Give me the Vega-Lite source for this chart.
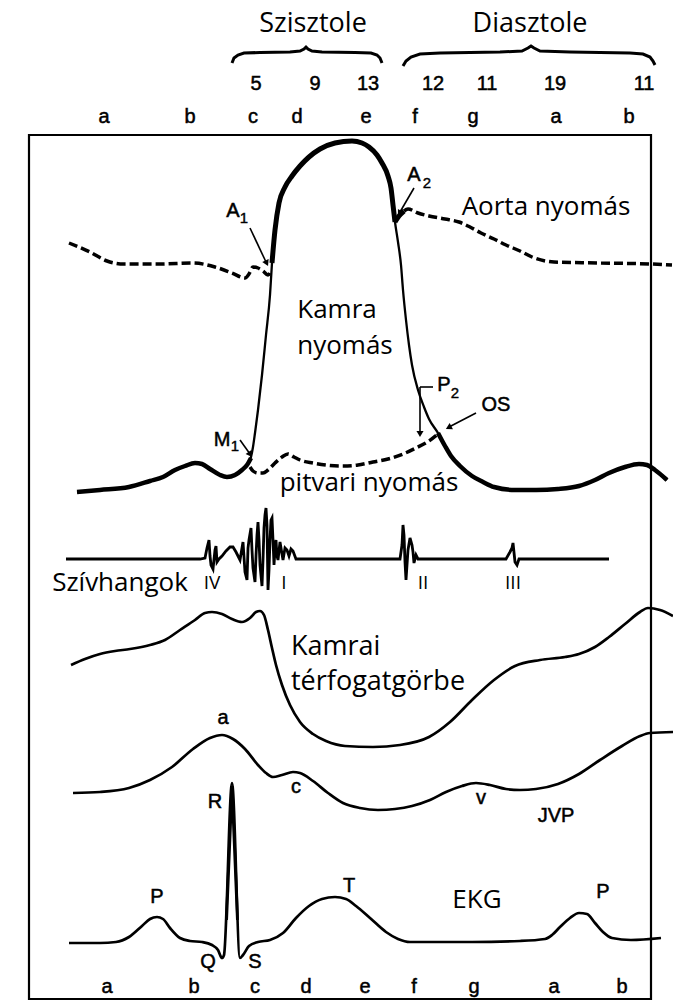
{
"$schema":"https://vega.github.io/schema/vega-lite/v6.json",
"width":673,"height":1001,"autosize":{"type":"none"},"padding":0,
"background":"white",
"config":{"view":{"stroke":null}},
"datasets":{
"L":[
{"s":"k","x":77,"y":492},{"s":"k","x":100,"y":490},{"s":"k","x":129,"y":487},{"s":"k","x":150,"y":481},{"s":"k","x":163,"y":477},{"s":"k","x":175,"y":470},{"s":"k","x":185,"y":466},{"s":"k","x":195,"y":463},{"s":"k","x":202,"y":464},{"s":"k","x":210,"y":469},{"s":"k","x":220,"y":475},{"s":"k","x":227,"y":477},{"s":"k","x":235,"y":475},{"s":"k","x":242,"y":470},{"s":"k","x":247,"y":465},{"s":"k","x":251,"y":457},{"s":"k","x":253,"y":447},{"s":"k","x":255,"y":433},{"s":"k","x":258,"y":410},{"s":"k","x":262,"y":375},{"s":"k","x":266,"y":335},{"s":"k","x":270,"y":295},{"s":"k","x":272,"y":263},{"s":"k","x":275,"y":230},{"s":"k","x":279,"y":203},{"s":"k","x":285,"y":187},{"s":"k","x":292,"y":176},{"s":"k","x":300,"y":166},{"s":"k","x":309,"y":157},{"s":"k","x":320,"y":149},{"s":"k","x":335,"y":143},{"s":"k","x":352,"y":141},{"s":"k","x":362,"y":143},{"s":"k","x":369,"y":147},{"s":"k","x":377,"y":155},{"s":"k","x":382,"y":163},{"s":"k","x":388,"y":176},{"s":"k","x":391,"y":188},{"s":"k","x":393,"y":205},{"s":"k","x":395,"y":222},{"s":"k","x":398,"y":242},{"s":"k","x":401,"y":265},{"s":"k","x":403,"y":290},{"s":"k","x":406,"y":320},{"s":"k","x":409,"y":345},{"s":"k","x":412,"y":365},{"s":"k","x":418,"y":390},{"s":"k","x":424,"y":407},{"s":"k","x":429,"y":419},{"s":"k","x":438,"y":433},{"s":"k","x":445,"y":446},{"s":"k","x":451,"y":456},{"s":"k","x":460,"y":466},{"s":"k","x":472,"y":476},{"s":"k","x":483,"y":482},{"s":"k","x":494,"y":487},{"s":"k","x":515,"y":490},{"s":"k","x":536,"y":490},{"s":"k","x":558,"y":489},{"s":"k","x":579,"y":486},{"s":"k","x":595,"y":480},{"s":"k","x":609,"y":473},{"s":"k","x":625,"y":467},{"s":"k","x":639,"y":464},{"s":"k","x":647,"y":465},{"s":"k","x":655,"y":470},{"s":"k","x":667,"y":480},
{"s":"at","x":272,"y":263},{"s":"at","x":275,"y":230},{"s":"at","x":279,"y":203},{"s":"at","x":285,"y":187},{"s":"at","x":292,"y":176},{"s":"at","x":300,"y":166},{"s":"at","x":309,"y":157},{"s":"at","x":320,"y":149},{"s":"at","x":335,"y":143},{"s":"at","x":352,"y":141},{"s":"at","x":362,"y":143},{"s":"at","x":369,"y":147},{"s":"at","x":377,"y":155},{"s":"at","x":382,"y":163},{"s":"at","x":388,"y":176},{"s":"at","x":391,"y":188},{"s":"at","x":393,"y":205},{"s":"at","x":395,"y":222},
{"s":"an","x":395,"y":222},{"s":"an","x":399,"y":216},{"s":"an","x":404,"y":211},
{"s":"a1","x":69,"y":243},{"s":"a1","x":90,"y":252},{"s":"a1","x":107,"y":261},{"s":"a1","x":124,"y":264},{"s":"a1","x":160,"y":264},{"s":"a1","x":193,"y":263},{"s":"a1","x":215,"y":267},{"s":"a1","x":232,"y":273},{"s":"a1","x":245,"y":278},{"s":"a1","x":249,"y":274},{"s":"a1","x":253,"y":267},{"s":"a1","x":258,"y":268},{"s":"a1","x":263,"y":271},{"s":"a1","x":268,"y":275},{"s":"a1","x":271,"y":270},
{"s":"a2","x":404,"y":211},{"s":"a2","x":408,"y":209},{"s":"a2","x":418,"y":213},{"s":"a2","x":429,"y":216},{"s":"a2","x":445,"y":219},{"s":"a2","x":459,"y":222},{"s":"a2","x":470,"y":227},{"s":"a2","x":481,"y":233},{"s":"a2","x":494,"y":239},{"s":"a2","x":506,"y":245},{"s":"a2","x":520,"y":251},{"s":"a2","x":532,"y":257},{"s":"a2","x":554,"y":262},{"s":"a2","x":601,"y":263},{"s":"a2","x":652,"y":264},{"s":"a2","x":672,"y":265},
{"s":"p1","x":77,"y":492},{"s":"p1","x":100,"y":490},{"s":"p1","x":129,"y":487},{"s":"p1","x":150,"y":481},{"s":"p1","x":163,"y":477},{"s":"p1","x":175,"y":470},{"s":"p1","x":185,"y":466},{"s":"p1","x":195,"y":463},{"s":"p1","x":202,"y":464},{"s":"p1","x":210,"y":469},{"s":"p1","x":220,"y":475},{"s":"p1","x":227,"y":477},{"s":"p1","x":235,"y":475},{"s":"p1","x":242,"y":470},{"s":"p1","x":247,"y":465},{"s":"p1","x":251,"y":458},
{"s":"ps","x":250,"y":467},{"s":"ps","x":253,"y":471},{"s":"ps","x":258,"y":473},{"s":"ps","x":263,"y":473},{"s":"ps","x":268,"y":470},{"s":"ps","x":275,"y":463},{"s":"ps","x":282,"y":457},{"s":"ps","x":288,"y":454},{"s":"ps","x":294,"y":457},{"s":"ps","x":300,"y":460},{"s":"ps","x":313,"y":463},{"s":"ps","x":326,"y":465},{"s":"ps","x":343,"y":466},{"s":"ps","x":358,"y":465},{"s":"ps","x":373,"y":462},{"s":"ps","x":388,"y":459},{"s":"ps","x":403,"y":454},{"s":"ps","x":416,"y":448},{"s":"ps","x":429,"y":441},{"s":"ps","x":438,"y":434},
{"s":"p2","x":438,"y":433},{"s":"p2","x":445,"y":446},{"s":"p2","x":451,"y":456},{"s":"p2","x":460,"y":466},{"s":"p2","x":472,"y":476},{"s":"p2","x":483,"y":482},{"s":"p2","x":494,"y":487},{"s":"p2","x":515,"y":490},{"s":"p2","x":536,"y":490},{"s":"p2","x":558,"y":489},{"s":"p2","x":579,"y":486},{"s":"p2","x":595,"y":480},{"s":"p2","x":609,"y":473},{"s":"p2","x":625,"y":467},{"s":"p2","x":639,"y":464},{"s":"p2","x":647,"y":465},{"s":"p2","x":655,"y":470},{"s":"p2","x":667,"y":480},
{"s":"v","x":71,"y":665},{"s":"v","x":85,"y":659},{"s":"v","x":100,"y":654},{"s":"v","x":115,"y":651},{"s":"v","x":130,"y":649},{"s":"v","x":150,"y":645},{"s":"v","x":165,"y":640},{"s":"v","x":180,"y":630},{"s":"v","x":195,"y":620},{"s":"v","x":205,"y":613},{"s":"v","x":212,"y":612},{"s":"v","x":222,"y":614},{"s":"v","x":232,"y":619},{"s":"v","x":242,"y":622},{"s":"v","x":250,"y":618},{"s":"v","x":256,"y":612},{"s":"v","x":260,"y":611},{"s":"v","x":264,"y":615},{"s":"v","x":268,"y":630},{"s":"v","x":272,"y":648},{"s":"v","x":276,"y":665},{"s":"v","x":282,"y":685},{"s":"v","x":290,"y":705},{"s":"v","x":300,"y":722},{"s":"v","x":313,"y":734},{"s":"v","x":326,"y":741},{"s":"v","x":345,"y":746},{"s":"v","x":373,"y":747},{"s":"v","x":400,"y":745},{"s":"v","x":429,"y":737},{"s":"v","x":450,"y":722},{"s":"v","x":472,"y":700},{"s":"v","x":494,"y":680},{"s":"v","x":515,"y":666},{"s":"v","x":540,"y":660},{"s":"v","x":565,"y":657},{"s":"v","x":579,"y":654},{"s":"v","x":595,"y":647},{"s":"v","x":609,"y":637},{"s":"v","x":625,"y":624},{"s":"v","x":640,"y":612},{"s":"v","x":648,"y":608},{"s":"v","x":660,"y":610},{"s":"v","x":673,"y":616},
{"s":"j","x":73,"y":793},{"s":"j","x":100,"y":792},{"s":"j","x":129,"y":788},{"s":"j","x":150,"y":780},{"s":"j","x":172,"y":767},{"s":"j","x":193,"y":749},{"s":"j","x":210,"y":738},{"s":"j","x":222,"y":735},{"s":"j","x":233,"y":739},{"s":"j","x":245,"y":749},{"s":"j","x":258,"y":765},{"s":"j","x":266,"y":773},{"s":"j","x":273,"y":777},{"s":"j","x":282,"y":775},{"s":"j","x":293,"y":772},{"s":"j","x":300,"y":773},{"s":"j","x":313,"y":781},{"s":"j","x":328,"y":793},{"s":"j","x":343,"y":803},{"s":"j","x":360,"y":808},{"s":"j","x":378,"y":810},{"s":"j","x":395,"y":809},{"s":"j","x":412,"y":806},{"s":"j","x":430,"y":800},{"s":"j","x":446,"y":792},{"s":"j","x":462,"y":786},{"s":"j","x":476,"y":783},{"s":"j","x":490,"y":785},{"s":"j","x":506,"y":789},{"s":"j","x":520,"y":790},{"s":"j","x":536,"y":789},{"s":"j","x":558,"y":784},{"s":"j","x":579,"y":774},{"s":"j","x":600,"y":760},{"s":"j","x":622,"y":746},{"s":"j","x":640,"y":736},{"s":"j","x":650,"y":733},{"s":"j","x":673,"y":732},
{"s":"e","x":69,"y":943},{"s":"e","x":100,"y":943},{"s":"e","x":116,"y":942},{"s":"e","x":129,"y":937},{"s":"e","x":142,"y":926},{"s":"e","x":150,"y":919},{"s":"e","x":157,"y":917},{"s":"e","x":163,"y":919},{"s":"e","x":170,"y":928},{"s":"e","x":180,"y":938},{"s":"e","x":190,"y":941},{"s":"e","x":202,"y":942},{"s":"e","x":212,"y":945},{"s":"e","x":218,"y":950},{"s":"e","x":222,"y":958},{"s":"e","x":224,"y":955},{"s":"e","x":232,"y":783},{"s":"e","x":240,"y":958},{"s":"e","x":243,"y":955},{"s":"e","x":249,"y":946},{"s":"e","x":258,"y":942},{"s":"e","x":270,"y":940},{"s":"e","x":283,"y":933},{"s":"e","x":296,"y":918},{"s":"e","x":309,"y":906},{"s":"e","x":322,"y":899},{"s":"e","x":335,"y":897},{"s":"e","x":346,"y":899},{"s":"e","x":356,"y":906},{"s":"e","x":370,"y":918},{"s":"e","x":386,"y":932},{"s":"e","x":398,"y":939},{"s":"e","x":410,"y":942},{"s":"e","x":472,"y":942},{"s":"e","x":520,"y":941},{"s":"e","x":545,"y":939},{"s":"e","x":552,"y":935},{"s":"e","x":560,"y":927},{"s":"e","x":570,"y":918},{"s":"e","x":579,"y":913},{"s":"e","x":587,"y":914},{"s":"e","x":595,"y":923},{"s":"e","x":603,"y":932},{"s":"e","x":612,"y":938},{"s":"e","x":631,"y":940},{"s":"e","x":661,"y":938}
],
"R":[{"x":226.5,"y":920},{"x":232,"y":786},{"x":237.5,"y":920}],
"H":[
{"x":66,"y":559},{"x":200,"y":559},{"x":205,"y":558},{"x":207,"y":548},{"x":209,"y":540},{"x":210,"y":556},{"x":211,"y":565},{"x":213,"y":569},{"x":215,"y":550},{"x":216,"y":546},{"x":217,"y":562},{"x":219,"y":559},{"x":222,"y":556},{"x":226,"y":551},{"x":230,"y":547},{"x":233,"y":547},{"x":236,"y":552},{"x":240,"y":560},{"x":242,"y":548},{"x":243,"y":542},{"x":245,"y":572},{"x":247,"y":580},{"x":248,"y":548},{"x":249,"y":540},{"x":251,"y":528},{"x":252,"y":550},{"x":253,"y":568},{"x":255,"y":582},{"x":256,"y":556},{"x":257,"y":535},{"x":258,"y":522},{"x":259,"y":540},{"x":260,"y":565},{"x":262,"y":586},{"x":263,"y":560},{"x":264,"y":528},{"x":265,"y":515},{"x":266,"y":508},{"x":267,"y":525},{"x":268,"y":590},{"x":269,"y":570},{"x":270,"y":540},{"x":271,"y":520},{"x":272,"y":518},{"x":273,"y":540},{"x":274,"y":565},{"x":275,"y":550},{"x":276,"y":540},{"x":277,"y":556},{"x":278,"y":560},{"x":280,"y":542},{"x":281,"y":548},{"x":283,"y":560},{"x":285,"y":548},{"x":287,"y":550},{"x":289,"y":556},{"x":291,"y":549},{"x":293,"y":551},{"x":296,"y":559},{"x":400,"y":559},{"x":402,"y":545},{"x":403,"y":525},{"x":404,"y":535},{"x":405,"y":562},{"x":406,"y":580},{"x":407,"y":565},{"x":408,"y":550},{"x":410,"y":538},{"x":412,"y":545},{"x":413,"y":552},{"x":414,"y":563},{"x":416,"y":555},{"x":418,"y":559},{"x":506,"y":559},{"x":510,"y":552},{"x":512,"y":548},{"x":513,"y":543},{"x":515,"y":562},{"x":517,"y":565},{"x":519,"y":559},{"x":609,"y":559}
],
"B":[
{"s":"b1","x":232,"y":63},{"s":"b1","x":234,"y":58},{"s":"b1","x":238,"y":55},{"s":"b1","x":244,"y":53},{"s":"b1","x":260,"y":52.5},{"s":"b1","x":290,"y":52},{"s":"b1","x":300,"y":51},{"s":"b1","x":304,"y":49},{"s":"b1","x":306,"y":47},{"s":"b1","x":308,"y":49},{"s":"b1","x":312,"y":51},{"s":"b1","x":322,"y":52},{"s":"b1","x":355,"y":52.5},{"s":"b1","x":371,"y":53},{"s":"b1","x":377,"y":55},{"s":"b1","x":380,"y":58},{"s":"b1","x":382,"y":63},
{"s":"b2","x":403,"y":66},{"s":"b2","x":406,"y":61},{"s":"b2","x":411,"y":57},{"s":"b2","x":420,"y":54},{"s":"b2","x":440,"y":53},{"s":"b2","x":500,"y":52},{"s":"b2","x":522,"y":51},{"s":"b2","x":528,"y":48},{"s":"b2","x":531,"y":46},{"s":"b2","x":534,"y":48},{"s":"b2","x":540,"y":51},{"s":"b2","x":570,"y":52},{"s":"b2","x":630,"y":53},{"s":"b2","x":643,"y":54},{"s":"b2","x":650,"y":57},{"s":"b2","x":653,"y":61},{"s":"b2","x":655,"y":65}
],
"BOX":[{"x":29,"y":135,"x2":651,"y2":999}],
"AR":[
{"x":250,"y":228,"x2":266,"y2":262},{"x":414,"y":188,"x2":400,"y2":212},{"x":420,"y":387,"x2":433,"y2":387},{"x":420,"y":387,"x2":420,"y2":433},{"x":476,"y":413,"x2":449,"y2":427},{"x":240,"y":440,"x2":250,"y2":454}
],
"AH":[
{"x":266.3,"y":262.4,"ang":154.7},{"x":400,"y":212.5,"ang":209.7},{"x":420,"y":433,"ang":180},{"x":449.5,"y":427,"ang":242},{"x":249.7,"y":453.7,"ang":144.8}
],
"TT":[
{"t":"Szisztole","x":313,"y":24},{"t":"Diasztole","x":530,"y":24}
],
"TB":[
{"t":"Aorta nyomás","x":546,"y":207},{"t":"Kamra","x":337,"y":310},{"t":"nyomás","x":345,"y":346},{"t":"pitvari nyomás","x":369,"y":483},{"t":"Szívhangok","x":120,"y":583},{"t":"EKG","x":477,"y":900}
],
"TL":[
{"t":"Kamrai","x":291,"y":647},{"t":"térfogatgörbe","x":291,"y":682}
],
"TS":[
{"t":"5","x":256,"y":84},{"t":"9","x":315,"y":84},{"t":"13","x":368,"y":84},{"t":"12","x":433,"y":84},{"t":"11","x":487,"y":84},{"t":"19","x":555,"y":84},{"t":"11","x":644,"y":84},
{"t":"a","x":104,"y":117},{"t":"b","x":190,"y":117},{"t":"c","x":253,"y":117},{"t":"d","x":297,"y":117},{"t":"e","x":366,"y":117},{"t":"f","x":415,"y":117},{"t":"g","x":473,"y":117},{"t":"a","x":556,"y":117},{"t":"b","x":629,"y":117},
{"t":"a","x":107,"y":987},{"t":"b","x":194,"y":987},{"t":"c","x":255,"y":987},{"t":"d","x":306,"y":987},{"t":"e","x":365,"y":987},{"t":"f","x":414,"y":987},{"t":"g","x":474,"y":987},{"t":"a","x":554,"y":987},{"t":"b","x":622,"y":987},
{"t":"a","x":223,"y":718},{"t":"c","x":296,"y":787},{"t":"v","x":481,"y":798},{"t":"JVP","x":556,"y":816},{"t":"R","x":215,"y":802},
{"t":"P","x":157,"y":897},{"t":"Q","x":208,"y":962},{"t":"S","x":255,"y":962},{"t":"T","x":349,"y":886},{"t":"P","x":603,"y":892},
{"t":"A","x":233,"y":211},{"t":"A","x":414,"y":175},{"t":"M","x":222,"y":440},{"t":"P","x":444,"y":385},{"t":"OS","x":496,"y":405}
],
"TU":[
{"t":"1","x":244,"y":218},{"t":"2","x":427,"y":183},{"t":"1","x":235,"y":446},{"t":"2","x":455,"y":393}
],
"TH":[
{"t":"IV","x":212,"y":583},{"t":"I","x":284,"y":583},{"t":"II","x":423,"y":583},{"t":"III","x":513,"y":583}
]
},
"encoding":{
"x":{"field":"x","type":"quantitative","scale":{"domain":[0,673],"nice":false,"zero":false},"axis":null},
"y":{"field":"y","type":"quantitative","scale":{"domain":[0,1001],"nice":false,"zero":false,"reverse":true},"axis":null}
},
"layer":[
{"data":{"name":"BOX"},"mark":{"type":"rect","fill":null,"stroke":"black","strokeWidth":2.2},"encoding":{"x2":{"field":"x2"},"y2":{"field":"y2"}}},
{"data":{"name":"L"},"transform":[{"filter":"datum.s=='k'"}],"mark":{"type":"line","stroke":"black","strokeWidth":2.3,"interpolate":"monotone"},"encoding":{"order":{"value":null}}},
{"data":{"name":"L"},"transform":[{"filter":"datum.s=='at' || datum.s=='an'"}],"mark":{"type":"line","stroke":"black","strokeWidth":5,"interpolate":"monotone"},"encoding":{"detail":{"field":"s"},"order":{"value":null}}},
{"data":{"name":"L"},"transform":[{"filter":"datum.s=='p1' || datum.s=='p2'"}],"mark":{"type":"line","stroke":"black","strokeWidth":4.5,"interpolate":"monotone"},"encoding":{"detail":{"field":"s"},"order":{"value":null}}},
{"data":{"name":"L"},"transform":[{"filter":"datum.s=='a1' || datum.s=='a2' || datum.s=='ps'"}],"mark":{"type":"line","stroke":"black","strokeWidth":3.5,"strokeDash":[9,4],"interpolate":"monotone"},"encoding":{"detail":{"field":"s"},"order":{"value":null}}},
{"data":{"name":"L"},"transform":[{"filter":"datum.s=='v' || datum.s=='j' || datum.s=='e'"}],"mark":{"type":"line","stroke":"black","strokeWidth":2.7,"interpolate":"monotone"},"encoding":{"detail":{"field":"s"},"order":{"value":null}}},
{"data":{"name":"R"},"mark":{"type":"line","stroke":"black","strokeWidth":3,"interpolate":"linear"},"encoding":{"order":{"value":null}}},
{"data":{"name":"H"},"mark":{"type":"line","stroke":"black","strokeWidth":2.8,"interpolate":"linear"},"encoding":{"order":{"value":null}}},
{"data":{"name":"B"},"mark":{"type":"line","stroke":"black","strokeWidth":3,"interpolate":"linear"},"encoding":{"detail":{"field":"s"},"order":{"value":null}}},
{"data":{"name":"AR"},"mark":{"type":"rule","stroke":"black","strokeWidth":1.6},"encoding":{"x2":{"field":"x2"},"y2":{"field":"y2"}}},
{"data":{"name":"AH"},"mark":{"type":"point","shape":"triangle","filled":true,"fill":"black","stroke":null,"size":50,"opacity":1},"encoding":{"angle":{"field":"ang","type":"quantitative","scale":null}}},
{"data":{"name":"TT"},"mark":{"type":"text","font":"Open Sans","fontSize":27,"align":"center","baseline":"middle","fill":"black"},"encoding":{"text":{"field":"t"}}},
{"data":{"name":"TB"},"mark":{"type":"text","font":"Open Sans","fontSize":26,"align":"center","baseline":"middle","fill":"black"},"encoding":{"text":{"field":"t"}}},
{"data":{"name":"TL"},"mark":{"type":"text","font":"Open Sans","fontSize":27,"align":"left","baseline":"middle","fill":"black"},"encoding":{"text":{"field":"t"}}},
{"data":{"name":"TS"},"mark":{"type":"text","font":"Liberation Sans","fontSize":20,"align":"center","baseline":"middle","fill":"black","stroke":"black","strokeWidth":0.5},"encoding":{"text":{"field":"t"}}},
{"data":{"name":"TU"},"mark":{"type":"text","font":"Liberation Sans","fontSize":15,"align":"center","baseline":"middle","fill":"black","stroke":"black","strokeWidth":0.4},"encoding":{"text":{"field":"t"}}},
{"data":{"name":"TH"},"mark":{"type":"text","font":"Open Sans","fontSize":19,"align":"center","baseline":"middle","fill":"black"},"encoding":{"text":{"field":"t"}}}
]
}
